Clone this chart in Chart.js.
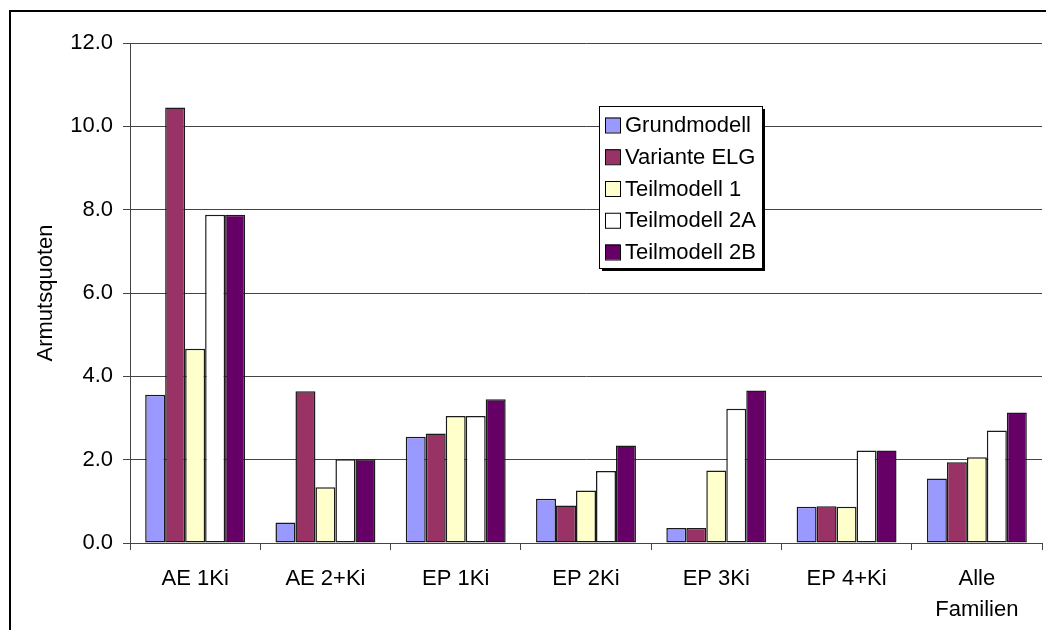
<!DOCTYPE html>
<html>
<head>
<meta charset="utf-8">
<script src="https://cdn.jsdelivr.net/npm/chart.js@4/dist/chart.umd.min.js"></script>
<style>
  html, body { margin: 0; padding: 0; background: #fff; overflow: hidden; }
  #wrap { position: relative; width: 1046px; height: 630px; }
  #frame { position: absolute; left: 9px; top: 10px; width: 1100px; height: 700px;
           border: 2px solid #000; pointer-events: none; }
</style>
</head>
<body>
<div id="wrap">
  <canvas id="chart" width="1046" height="630"></canvas>
  <div id="frame"></div>
</div>
<script>
// Kategorien
var categories = ["AE 1Ki", "AE 2+Ki", "EP 1Ki", "EP 2Ki", "EP 3Ki", "EP 4+Ki", ["Alle", "Familien"]];
// Armutsquoten je Modell
var grundmodell = [3.56, 0.49, 2.55, 1.06, 0.36, 0.87, 1.55];
var varianteElg = [10.45, 3.64, 2.63, 0.90, 0.36, 0.88, 1.94];
var teilmodell1 = [4.66, 1.34, 3.05, 1.26, 1.74, 0.87, 2.06];
var teilmodell2A = [7.88, 2.01, 3.05, 1.73, 3.22, 2.22, 2.70];
var teilmodell2B = [7.88, 2.01, 3.45, 2.34, 3.66, 2.22, 3.13];
var yTicks = [0, 2, 4, 6, 8, 10, 12];

var FONT = "'Liberation Sans', Arial, sans-serif";

function ds(label, data, color) {
  return {
    label: label,
    data: data,
    backgroundColor: color,
    borderColor: "#1a1a1a",
    borderWidth: 1.5,
    borderSkipped: false,
    barPercentage: 1.0,
    categoryPercentage: 0.767,
  };
}

// Legende als Kasten im Diagramm
var boxLegend = {
  id: "boxLegend",
  afterDraw: function (chart) {
    var ctx = chart.ctx;
    var x = 599, y = 106, w = 163, h = 162;
    ctx.save();
    ctx.fillStyle = "#000";
    ctx.fillRect(x + 3, y + 3, w, h);
    ctx.fillStyle = "#fff";
    ctx.fillRect(x, y, w, h);
    ctx.strokeStyle = "#000";
    ctx.lineWidth = 1;
    ctx.strokeRect(x + 0.5, y + 0.5, w, h);
    ctx.font = "22px " + FONT;
    ctx.textBaseline = "middle";
    chart.data.datasets.forEach(function (d, i) {
      var cy = 125 + i * 31.75;
      ctx.fillStyle = d.backgroundColor;
      ctx.fillRect(605, cy - 7.5, 15, 15);
      ctx.strokeStyle = "#000";
      ctx.strokeRect(605.5, cy - 7, 15, 15);
      ctx.fillStyle = "#000";
      ctx.fillText(d.label, 625, cy + 1);
    });
    ctx.restore();
  },
};

new Chart(document.getElementById("chart").getContext("2d"), {
  type: "bar",
  data: {
    labels: categories,
    datasets: [
      ds("Grundmodell", grundmodell, "#9999ff"),
      ds("Variante ELG", varianteElg, "#993366"),
      ds("Teilmodell 1", teilmodell1, "#ffffcc"),
      ds("Teilmodell 2A", teilmodell2A, "#ffffff"),
      ds("Teilmodell 2B", teilmodell2B, "#660066"),
    ],
  },
  options: {
    responsive: false,
    animation: false,
    layout: { padding: { left: 0, top: 43, right: 4, bottom: 0 } },
    plugins: {
      legend: { display: false },
      tooltip: { enabled: false },
    },
    scales: {
      x: {
        grid: {
          offset: true,
          drawOnChartArea: false,
          drawTicks: true,
          tickLength: 7,
          tickColor: "#444",
        },
        border: { color: "#444", width: 1 },
        ticks: {
          color: "#000",
          padding: 14,
          maxRotation: 0,
          font: { family: FONT, size: 22, lineHeight: 1.4 },
        },
        afterFit: function (s) { s.height = 87; },
      },
      y: {
        min: 0,
        max: 12,
        afterBuildTicks: function (s) {
          s.ticks = yTicks.map(function (v) { return { value: v }; });
        },
        grid: {
          color: "#444",
          tickColor: "#444",
          tickLength: 7,
          lineWidth: 1,
        },
        border: { color: "#444", width: 1 },
        ticks: {
          color: "#000",
          padding: 10,
          font: { family: FONT, size: 22 },
          callback: function (v) { return v.toFixed(1); },
        },
        title: {
          display: true,
          text: "Armutsquoten",
          color: "#000",
          padding: { top: 33, bottom: 0 },
          font: { family: FONT, size: 22 },
        },
        afterFit: function (s) { s.width = 130; },
      },
    },
  },
  plugins: [boxLegend],
});
</script>
</body>
</html>
